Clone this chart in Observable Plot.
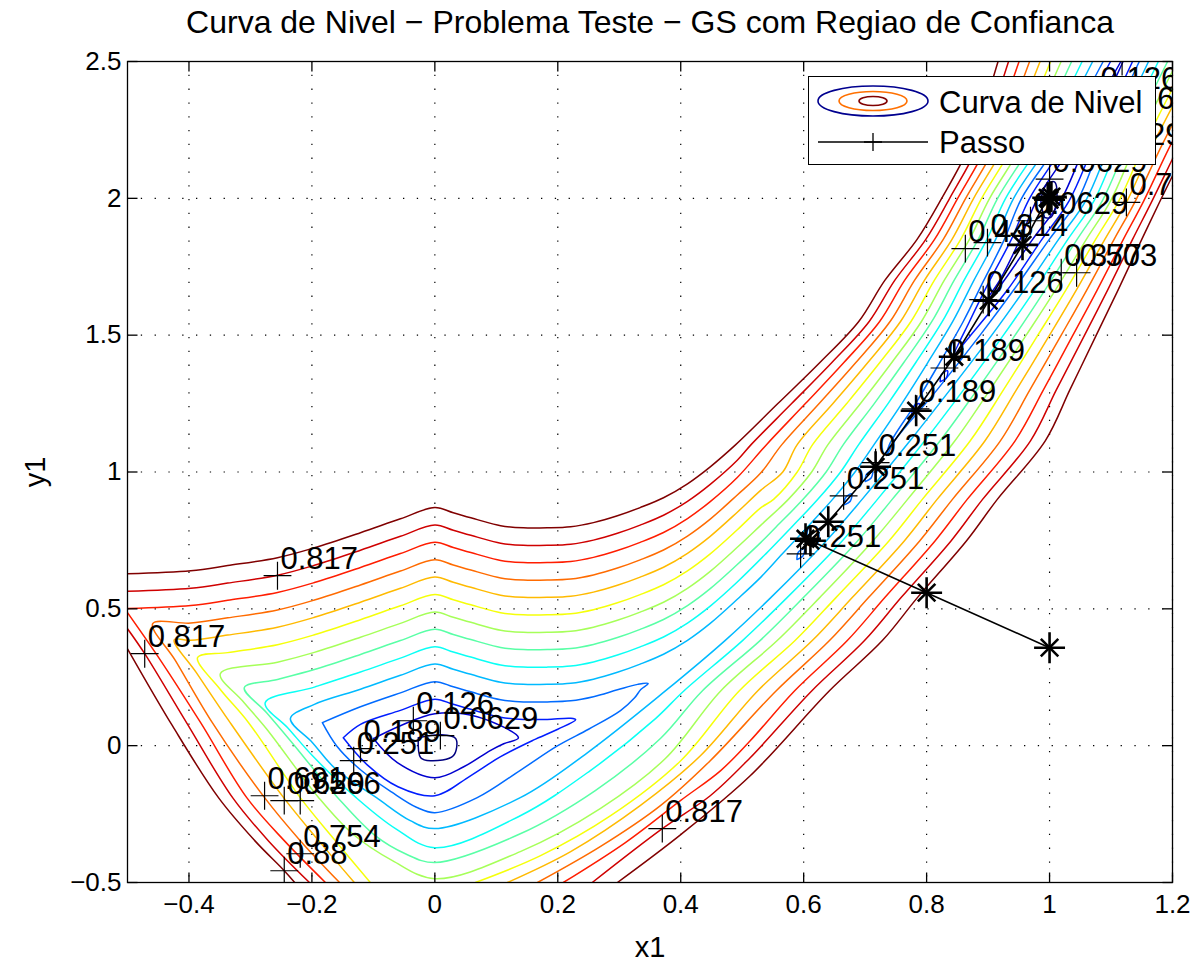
<!DOCTYPE html>
<html><head><meta charset="utf-8">
<script src="https://cdn.jsdelivr.net/npm/d3@7"></script>
<script src="https://cdn.jsdelivr.net/npm/@observablehq/plot@0.6"></script>
<style>
body{margin:0;background:#fff;}
#wrap{position:relative;width:1204px;height:963px;font-family:"Liberation Sans",Arial,sans-serif;}
#legend{position:absolute;left:808px;top:76px;width:348px;height:89px;border:1.5px solid #000;background:#fff;box-sizing:border-box;}
</style></head><body>
<div id="wrap"></div>
<script>
// ---------- data ----------
const levelValues = [0.0629,0.126,0.189,0.251,0.314,0.377,0.44,0.503,0.566,0.629,0.691,0.754,0.817,0.88];
const jetColors = ["#000080","#0000cf","#001dff","#006bff","#00baff","#0afff5","#59ffa6","#a6ff59","#f5ff0a","#ffba00","#ff6b00","#ff1d00","#cf0000","#800000"];
const xTicks = [-0.4,-0.2,0,0.2,0.4,0.6,0.8,1,1.2];
const yTicks = [-0.5,0,0.5,1,1.5,2,2.5];

// contour pieces (x, y)
const lv14_top = [[-0.5,0.628],[-0.397,0.639],[-0.337,0.658],[-0.256,0.687],[-0.196,0.723],[-0.121,0.778],[-0.056,0.829],[0,0.870],[0.030,0.851],[0.069,0.826],[0.107,0.804],[0.144,0.796],[0.183,0.796],[0.221,0.800],[0.258,0.815],[0.297,0.840],[0.334,0.870],[0.372,0.906],[0.411,0.957],[0.448,1.019],[0.4895,1.1],[0.558,1.25],[0.6264,1.4],[0.6896,1.55],[0.732,1.7],[0.7845,1.85],[0.8245,2.0],[0.8715,2.2],[0.9162,2.5]];
const lv14_ll = [[-0.5,0.354],[-0.427,0.073],[-0.352,-0.19],[-0.293,-0.347],[-0.245,-0.457],[-0.228,-0.5]];
const lv14_r = [[0.297,-0.5],[0.4,-0.325],[0.513,-0.11],[0.6415,0.2],[0.728,0.384],[0.785,0.541],[0.865,0.749],[0.915,0.9],[0.993,1.114],[1.033,1.3],[1.076,1.5],[1.111,1.663],[1.150,1.85],[1.180,1.991],[1.226,2.2]];

const lv13_top = [[-0.5,0.564],[-0.397,0.575],[-0.337,0.594],[-0.256,0.623],[-0.196,0.659],[-0.121,0.714],[-0.056,0.765],[0,0.806],[0.030,0.787],[0.069,0.762],[0.107,0.740],[0.144,0.732],[0.183,0.732],[0.221,0.736],[0.258,0.751],[0.297,0.776],[0.334,0.806],[0.372,0.842],[0.411,0.893],[0.448,0.955],[0.492,1.043],[0.5145,1.1],[0.5804,1.25],[0.6459,1.4],[0.7066,1.55],[0.7481,1.7],[0.7987,1.85],[0.8375,2.0],[0.8857,2.2],[0.9333,2.5]];
const lv13_ll = [[-0.5,0.427],[-0.472,0.336],[-0.404,0.084],[-0.329,-0.19],[-0.271,-0.347],[-0.204,-0.5]];
const lv13_r = [[0.256,-0.5],[0.37,-0.303],[0.448,-0.183],[0.513,-0.044],[0.613,0.2],[0.699,0.384],[0.7585,0.541],[0.840,0.749],[0.891,0.9],[0.969,1.114],[1.011,1.3],[1.057,1.5],[1.094,1.663],[1.135,1.85],[1.1668,1.991],[1.212,2.2]];

const lv12_top = [[-0.5,0.501],[-0.397,0.512],[-0.337,0.531],[-0.256,0.560],[-0.196,0.596],[-0.121,0.651],[-0.056,0.702],[0,0.743],[0.030,0.724],[0.069,0.699],[0.107,0.677],[0.144,0.669],[0.183,0.669],[0.221,0.673],[0.258,0.688],[0.297,0.713],[0.334,0.743],[0.372,0.779],[0.411,0.830],[0.448,0.892],[0.492,0.980],[0.5395,1.1],[0.6028,1.25],[0.6654,1.4],[0.7236,1.55],[0.7642,1.7],[0.8129,1.85],[0.8505,2.0],[0.8999,2.2],[0.9504,2.5]];
const lv12_ll = [[-0.5,0.486],[-0.446,0.311],[-0.381,0.084],[-0.306,-0.19],[-0.245,-0.347],[-0.178,-0.5]];
const lv12_r = [[0.209,-0.5],[0.31,-0.354],[0.4,-0.2],[0.465,-0.091],[0.513,0.018],[0.585,0.2],[0.671,0.384],[0.732,0.541],[0.814,0.749],[0.866,0.9],[0.944,1.114],[0.990,1.3],[1.038,1.5],[1.077,1.663],[1.120,1.85],[1.1533,1.991],[1.198,2.2],[1.27,2.5]];

const lv11_a = [[0.9675,2.5],[0.9141,2.2],[0.8635,2.0],[0.8271,1.85],[0.7803,1.7],[0.7406,1.55],[0.6849,1.4],[0.6252,1.25],[0.5645,1.1],[0.53,0.996],[0.492,0.916],[0.448,0.828],[0.411,0.766],[0.372,0.715],[0.334,0.679],[0.297,0.649],[0.258,0.624],[0.221,0.609],[0.183,0.605],[0.144,0.605],[0.107,0.613],[0.069,0.635],[0.030,0.660],[0,0.679],[-0.056,0.638],[-0.121,0.587],[-0.196,0.532],[-0.256,0.496],[-0.337,0.467],[-0.397,0.448],[-0.459,0.446],[-0.422,0.311],[-0.362,0.084],[-0.277,-0.19],[-0.219,-0.347],[-0.155,-0.5]];
const lv11_r = [[0.167,-0.5],[0.269,-0.369],[0.367,-0.219],[0.448,-0.055],[0.555,0.2],[0.642,0.384],[0.7055,0.541],[0.789,0.749],[0.842,0.9],[0.920,1.114],[0.968,1.3],[1.019,1.5],[1.060,1.663],[1.105,1.85],[1.1398,1.991],[1.184,2.2],[1.254,2.5]];

const lv10_a = [[0.9846,2.5],[0.9283,2.2],[0.8765,2.0],[0.8413,1.85],[0.7964,1.7],[0.7576,1.55],[0.7044,1.4],[0.6476,1.25],[0.5895,1.1],[0.566,1.0],[0.53,0.933],[0.492,0.853],[0.448,0.765],[0.411,0.703],[0.372,0.652],[0.334,0.616],[0.297,0.586],[0.258,0.561],[0.221,0.546],[0.183,0.542],[0.144,0.542],[0.107,0.550],[0.069,0.572],[0.030,0.597],[0,0.616],[-0.056,0.575],[-0.121,0.524],[-0.196,0.469],[-0.256,0.433],[-0.337,0.404],[-0.397,0.385],[-0.424,0.387],[-0.388,0.267],[-0.333,0.084],[-0.246,-0.19],[-0.189,-0.347],[-0.131,-0.5]];
const lv10_r = [[0.118,-0.5],[0.221,-0.387],[0.334,-0.219],[0.432,-0.037],[0.525,0.2],[0.614,0.384],[0.679,0.541],[0.764,0.749],[0.817,0.9],[0.895,1.114],[0.946,1.3],[1.0,1.5],[1.043,1.663],[1.0899,1.85],[1.1263,1.991],[1.169,2.2],[1.239,2.5]];

const lv9_a = [[1.0017,2.5],[0.9425,2.2],[0.8895,2.0],[0.8555,1.85],[0.8125,1.7],[0.7746,1.55],[0.7239,1.4],[0.67,1.25],[0.6145,1.1],[0.5895,1.0],[0.551,0.9],[0.53,0.869],[0.492,0.789],[0.448,0.701],[0.411,0.639],[0.372,0.588],[0.334,0.552],[0.297,0.522],[0.258,0.497],[0.221,0.482],[0.183,0.478],[0.144,0.478],[0.107,0.486],[0.069,0.508],[0.030,0.533],[0,0.552],[-0.056,0.511],[-0.121,0.460],[-0.196,0.405],[-0.256,0.369],[-0.337,0.340],[-0.386,0.322],[-0.350,0.208],[-0.303,0.084],[-0.219,-0.19],[-0.162,-0.347],[-0.105,-0.5]];
const lv9_r = [[0.066,-0.5],[0.172,-0.402],[0.286,-0.256],[0.4,-0.055],[0.495,0.2],[0.586,0.384],[0.6525,0.541],[0.739,0.749],[0.793,0.9],[0.871,1.114],[0.925,1.3],[0.981,1.5],[1.026,1.663],[1.0749,1.85],[1.1128,1.991],[1.155,2.2],[1.223,2.5]];

const lv8 = [[1.0188,2.5],[0.9567,2.2],[0.9025,2.0],[0.8697,1.85],[0.8286,1.7],[0.7916,1.55],[0.7434,1.4],[0.6924,1.25],[0.6395,1.1],[0.613,1.0],[0.575,0.9],[0.53,0.805],[0.492,0.725],[0.448,0.637],[0.411,0.575],[0.372,0.524],[0.334,0.488],[0.297,0.458],[0.258,0.433],[0.221,0.418],[0.183,0.414],[0.144,0.414],[0.107,0.422],[0.069,0.444],[0.030,0.469],[0,0.488],[-0.056,0.447],[-0.121,0.396],[-0.196,0.341],[-0.256,0.305],[-0.349,0.263],[-0.313,0.164],[-0.274,0.062],[-0.189,-0.19],[-0.134,-0.322],[-0.069,-0.420],[0,-0.486],[0.139,-0.387],[0.269,-0.230],[0.375,-0.047],[0.465,0.2],[0.557,0.384],[0.626,0.541],[0.713,0.749],[0.769,0.9],[0.846,1.114],[0.903,1.3],[0.962,1.5],[1.009,1.663],[1.0598,1.85],[1.0993,1.991],[1.141,2.2],[1.208,2.5]];

const lv7 = [[1.0359,2.5],[0.9709,2.2],[0.9155,2.0],[0.8839,1.85],[0.8447,1.7],[0.8086,1.55],[0.7629,1.4],[0.7148,1.25],[0.6645,1.1],[0.6365,1.0],[0.599,0.9],[0.5555,0.8],[0.53,0.742],[0.492,0.662],[0.448,0.574],[0.411,0.512],[0.372,0.461],[0.334,0.425],[0.297,0.395],[0.258,0.370],[0.221,0.355],[0.183,0.351],[0.144,0.351],[0.107,0.359],[0.069,0.381],[0.030,0.406],[0,0.425],[-0.056,0.384],[-0.121,0.333],[-0.196,0.278],[-0.256,0.242],[-0.310,0.212],[-0.274,0.121],[-0.235,0.018],[-0.158,-0.19],[-0.097,-0.329],[-0.048,-0.395],[0,-0.427],[0.139,-0.322],[0.261,-0.164],[0.367,0.026],[0.435,0.2],[0.529,0.384],[0.5995,0.541],[0.688,0.749],[0.744,0.9],[0.822,1.114],[0.882,1.3],[0.944,1.5],[0.992,1.663],[1.0448,1.85],[1.0858,1.991],[1.127,2.2],[1.192,2.5]];

const lv6 = [[1.053,2.5],[0.9851,2.2],[0.9285,2.0],[0.8981,1.85],[0.8608,1.7],[0.8256,1.55],[0.7824,1.4],[0.7372,1.25],[0.6895,1.1],[0.660,1.0],[0.623,0.9],[0.581,0.8],[0.538,0.7],[0.492,0.598],[0.448,0.510],[0.411,0.448],[0.372,0.397],[0.334,0.361],[0.297,0.331],[0.258,0.306],[0.221,0.291],[0.183,0.287],[0.144,0.287],[0.107,0.295],[0.069,0.317],[0.030,0.342],[0,0.361],[-0.056,0.320],[-0.121,0.269],[-0.196,0.214],[-0.276,0.157],[-0.238,0.062],[-0.199,-0.037],[-0.128,-0.19],[-0.064,-0.303],[0,-0.373],[0.139,-0.256],[0.253,-0.091],[0.359,0.099],[0.405,0.2],[0.5005,0.384],[0.573,0.541],[0.663,0.749],[0.72,0.9],[0.797,1.114],[0.860,1.3],[0.925,1.5],[0.975,1.663],[1.0297,1.85],[1.0723,1.991],[1.113,2.2],[1.177,2.5]];

const lv5 = [[1.0701,2.5],[0.9993,2.2],[0.9415,2.0],[0.9123,1.85],[0.8769,1.7],[0.8426,1.55],[0.8019,1.4],[0.7596,1.25],[0.7145,1.1],[0.6835,1.0],[0.647,0.9],[0.6065,0.8],[0.565,0.7],[0.53,0.615],[0.492,0.535],[0.448,0.447],[0.411,0.385],[0.372,0.334],[0.334,0.298],[0.297,0.268],[0.258,0.243],[0.221,0.228],[0.183,0.224],[0.144,0.224],[0.107,0.232],[0.069,0.254],[0.030,0.279],[0,0.298],[-0.056,0.257],[-0.121,0.206],[-0.196,0.151],[-0.235,0.099],[-0.199,0.011],[-0.162,-0.084],[-0.095,-0.19],[-0.040,-0.274],[0,-0.303],[0.139,-0.19],[0.248,-0.026],[0.375,0.2],[0.472,0.384],[0.5465,0.541],[0.637,0.749],[0.695,0.9],[0.773,1.114],[0.838,1.3],[0.906,1.5],[0.958,1.663],[1.0147,1.85],[1.0588,1.991],[1.099,2.2],[1.161,2.5]];

const lv4_basin = [[-0.183,0.084],[-0.121,0.142],[-0.056,0.193],[0,0.234],[0.030,0.215],[0.069,0.190],[0.107,0.168],[0.144,0.160],[0.183,0.160],[0.221,0.164],[0.258,0.179],[0.297,0.204],[0.330,0.224],[0.347,0.227],[0.335,0.205],[0.325,0.175],[0.302,0.128],[0.25,0.06],[0.2,0.0],[0.139,-0.09],[0.069,-0.19],[0,-0.245],[-0.03,-0.225],[-0.07,-0.17],[-0.12,-0.09],[-0.16,0.0],[-0.183,0.084]];
const lv4_valley = [[1.0872,2.5],[1.0135,2.2],[0.9545,2.0],[0.9265,1.85],[0.893,1.7],[0.8596,1.55],[0.8214,1.4],[0.782,1.25],[0.7395,1.1],[0.735,1.06],[0.748,1.114],[0.817,1.3],[0.887,1.5],[0.941,1.663],[0.9996,1.85],[1.0453,1.991],[1.084,2.2],[1.146,2.5]];
const lv4_isle1 = [[0.589,0.68],[0.599,0.694],[0.601,0.72],[0.591,0.706],[0.589,0.68]];
const lv4_isle2 = [[0.666,0.88],[0.676,0.894],[0.678,0.92],[0.668,0.906],[0.666,0.88]];
const lv4_isle3 = [[0.70,0.965],[0.71,0.979],[0.712,1.005],[0.702,0.991],[0.70,0.965]];

const lv3_basin = [[-0.149,0.029],[-0.121,0.078],[-0.056,0.129],[0,0.170],[0.030,0.151],[0.069,0.126],[0.107,0.104],[0.144,0.096],[0.183,0.096],[0.221,0.100],[0.229,0.095],[0.2,0.06],[0.16,0.02],[0.107,-0.04],[0.058,-0.11],[0,-0.183],[-0.06,-0.15],[-0.11,-0.07],[-0.149,0.029]];
const lv3_valley = [[1.0992,2.5],[1.0249,2.2],[0.9675,2.0],[0.9379,1.85],[0.9027,1.7],[0.8698,1.55],[0.845,1.43],[0.8717,1.5],[0.9307,1.663],[0.9876,1.85],[1.0318,1.991],[1.0731,2.2],[1.135,2.5]];
const lv3_isle1 = [[0.776,1.21],[0.786,1.224],[0.788,1.25],[0.778,1.236],[0.776,1.21]];
const lv3_isle2 = [[0.822,1.33],[0.832,1.344],[0.834,1.37],[0.824,1.356],[0.822,1.33]];

const lv2_basin = [[-0.100,0.026],[-0.056,0.073],[0,0.117],[0.069,0.106],[0.136,0.029],[0.112,0.007],[0.090,-0.018],[0.047,-0.077],[0,-0.117],[-0.061,-0.062],[-0.100,0.026]];
const lv2_valley = [[1.116,2.5],[1.039,2.2],[0.9805,2.0],[0.952,1.85],[0.9188,1.7],[0.895,1.62],[0.9137,1.663],[0.9725,1.85],[1.018,1.991],[1.059,2.2],[1.1196,2.5]];

const lv1_basin = [[-0.027,0.029],[0.009,0.040],[0.034,0.026],[0.030,-0.037],[-0.007,-0.055],[-0.023,-0.044],[-0.027,0.029]];
const lv1_valley = [[0.992,1.93],[0.986,1.99],[0.995,2.05],[1.008,2.06],[1.012,2.0],[1.002,1.93],[0.992,1.93]];

// search path ("Passo")
const pathX = [1.0,0.8,0.611,0.603,0.640,0.717,0.783,0.845,0.901,0.956,0.997,1.0,1.003,0.999];
const pathY = [0.358,0.559,0.749,0.756,0.818,1.019,1.224,1.421,1.626,1.830,2.002,1.995,2.006,2.0];

// contour labels (marker position and text)
const labelText = ["0.817","0.817","0.817","0.88","0.754","0.691","0.629","0.566","0.126","0.0629","0.189","0.251","0.251","0.251","0.251","0.189","0.189","0.126","0.44","0.314","0.0629","0.377","0.503","0.566","0.629","0.0629","0.754"];
const labelX = [-0.256,-0.472,0.370,-0.245,-0.219,-0.277,-0.245,-0.219,-0.035,0.009,-0.121,-0.132,0.595,0.665,0.717,0.782,0.829,0.892,0.863,0.899,0.969,1.019,1.044,1.072,1.085,1.0,1.125];
const labelY = [0.621,0.336,-0.303,-0.457,-0.395,-0.183,-0.201,-0.201,0.091,0.037,-0.011,-0.055,0.701,0.913,1.034,1.231,1.38,1.63,1.816,1.838,1.918,1.728,1.728,2.30,2.17,2.07,1.985];
// label at the top edge: marker on the edge, text just below it
const topLabelText = ["0.126"];
const topMarkX = [1.118];
const topMarkY = [2.5];
const topTextX = [1.083];
const topTextY = [2.40];

// ---------- build ----------
const pieces = [
  [14,lv14_top],[14,lv14_ll],[14,lv14_r],
  [13,lv13_top],[13,lv13_ll],[13,lv13_r],
  [12,lv12_top],[12,lv12_ll],[12,lv12_r],
  [11,lv11_a],[11,lv11_r],
  [10,lv10_a],[10,lv10_r],
  [9,lv9_a],[9,lv9_r],
  [8,lv8],[7,lv7],[6,lv6],[5,lv5],
  [4,lv4_basin],[4,lv4_valley],[4,lv4_isle1],[4,lv4_isle2],[4,lv4_isle3],
  [3,lv3_basin],[3,lv3_valley],[3,lv3_isle1],[3,lv3_isle2],
  [2,lv2_basin],[2,lv2_valley],
  [1,lv1_basin],[1,lv1_valley]
];
const contourRows = pieces.flatMap(([k, pts], i) => pts.map(([x, y]) => ({x, y, level: levelValues[k - 1], piece: i})));
const pathRows = pathX.map((x, i) => ({x, y: pathY[i]}));
const labelRows = labelText.map((t, i) => ({t, x: labelX[i], y: labelY[i]}));
const topMarkRows = topMarkX.map((x, i) => ({x, y: topMarkY[i]}));
const topTextRows = topLabelText.map((t, i) => ({t, x: topTextX[i], y: topTextY[i]}));
const fmt = d => d < 0 ? "\u2212" + Math.abs(d) : String(d);

const tickBottom = {draw(c){c.moveTo(0,0);c.lineTo(0,-10);}};
const tickTop = {draw(c){c.moveTo(0,0);c.lineTo(0,10);}};
const tickLeft = {draw(c){c.moveTo(0,0);c.lineTo(10,0);}};
const tickRight = {draw(c){c.moveTo(0,0);c.lineTo(-10,0);}};

const chart = Plot.plot({
  width: 1204, height: 963,
  marginLeft: 127, marginRight: 32, marginTop: 61, marginBottom: 81,
  style: {fontFamily: "Liberation Sans, Arial, sans-serif", background: "#fff", color: "#000"},
  x: {domain: [-0.5, 1.2]},
  y: {domain: [-0.5, 2.5]},
  color: {type: "ordinal", domain: levelValues, range: jetColors},
  marks: [
    Plot.gridX(xTicks, {stroke: "#000", strokeOpacity: 1, strokeWidth: 1.2, strokeDasharray: "1.3,12.5"}),
    Plot.gridY(yTicks, {stroke: "#000", strokeOpacity: 1, strokeWidth: 1.2, strokeDasharray: "1.3,12.5"}),
    Plot.line(contourRows, {x: "x", y: "y", z: "piece", stroke: "level", strokeWidth: 1.5, curve: "catmull-rom", clip: true}),
    Plot.line(pathRows, {x: "x", y: "y", stroke: "#000", strokeWidth: 1.6}),
    Plot.dot(pathRows, {x: "x", y: "y", symbol: "plus", r: 10, stroke: "#000", strokeWidth: 2.6}),
    Plot.dot(pathRows, {x: "x", y: "y", symbol: "times", r: 8, stroke: "#000", strokeWidth: 2.6}),
    Plot.dot(labelRows, {x: "x", y: "y", symbol: "plus", r: 9, stroke: "#000", strokeWidth: 1.2, clip: true}),
    Plot.text(labelRows, {x: "x", y: "y", text: "t", textAnchor: "start", lineAnchor: "bottom", dx: 3, dy: -7, fontSize: 31, fill: "#000", clip: true}),
    Plot.dot(topMarkRows, {x: "x", y: "y", symbol: "plus", r: 9, stroke: "#000", strokeWidth: 1.2, clip: true}),
    Plot.text(topTextRows, {x: "x", y: "y", text: "t", textAnchor: "start", lineAnchor: "bottom", fontSize: 31, fill: "#000", clip: true}),
    Plot.frame({stroke: "#000", strokeWidth: 1.3}),
    Plot.dot(xTicks, {x: d => d, frameAnchor: "bottom", symbol: tickBottom, stroke: "#000", strokeWidth: 1.3}),
    Plot.dot(xTicks, {x: d => d, frameAnchor: "top", symbol: tickTop, stroke: "#000", strokeWidth: 1.3}),
    Plot.dot(yTicks, {y: d => d, frameAnchor: "left", symbol: tickLeft, stroke: "#000", strokeWidth: 1.3}),
    Plot.dot(yTicks, {y: d => d, frameAnchor: "right", symbol: tickRight, stroke: "#000", strokeWidth: 1.3}),
    Plot.axisX(xTicks, {tickSize: 0, tickPadding: 12, tickFormat: fmt, fontSize: 26, label: null}),
    Plot.axisY(yTicks, {tickSize: 0, tickPadding: 6, tickFormat: fmt, fontSize: 26, label: null}),
    Plot.text(["x1"], {frameAnchor: "bottom", lineAnchor: "middle", textAnchor: "middle", dy: 65, fontSize: 29, fill: "#000"}),
    Plot.text(["y1"], {frameAnchor: "left", lineAnchor: "middle", textAnchor: "middle", dx: -92, rotate: -90, fontSize: 29, fill: "#000"}),
    Plot.text(["Curva de Nivel \u2212 Problema Teste \u2212 GS com Regiao de Confianca"], {frameAnchor: "top", lineAnchor: "middle", textAnchor: "middle", dy: -39, fontSize: 32, fill: "#000"})
  ]
});
const wrap = document.getElementById("wrap");
wrap.appendChild(chart);

// legend (inside the axes, top right)
const lg = document.createElement("div");
lg.id = "legend";
lg.innerHTML = `<svg width="346" height="87" style="display:block;font-family:'Liberation Sans',Arial,sans-serif">
  <ellipse cx="64" cy="24" rx="55" ry="15" fill="none" stroke="#00008f" stroke-width="1.6"/>
  <ellipse cx="64" cy="24" rx="34" ry="9.5" fill="none" stroke="#ff7000" stroke-width="1.6"/>
  <ellipse cx="64" cy="24" rx="14" ry="4.5" fill="none" stroke="#800000" stroke-width="1.6"/>
  <text x="130" y="36" font-size="31">Curva de Nivel</text>
  <line x1="9" x2="119" y1="65" y2="65" stroke="#000" stroke-width="1.3"/>
  <path d="M55,65H73M64,56V74" stroke="#000" stroke-width="1.3"/>
  <text x="130" y="76" font-size="31">Passo</text>
</svg>`;
wrap.appendChild(lg);
</script>
</body></html>
